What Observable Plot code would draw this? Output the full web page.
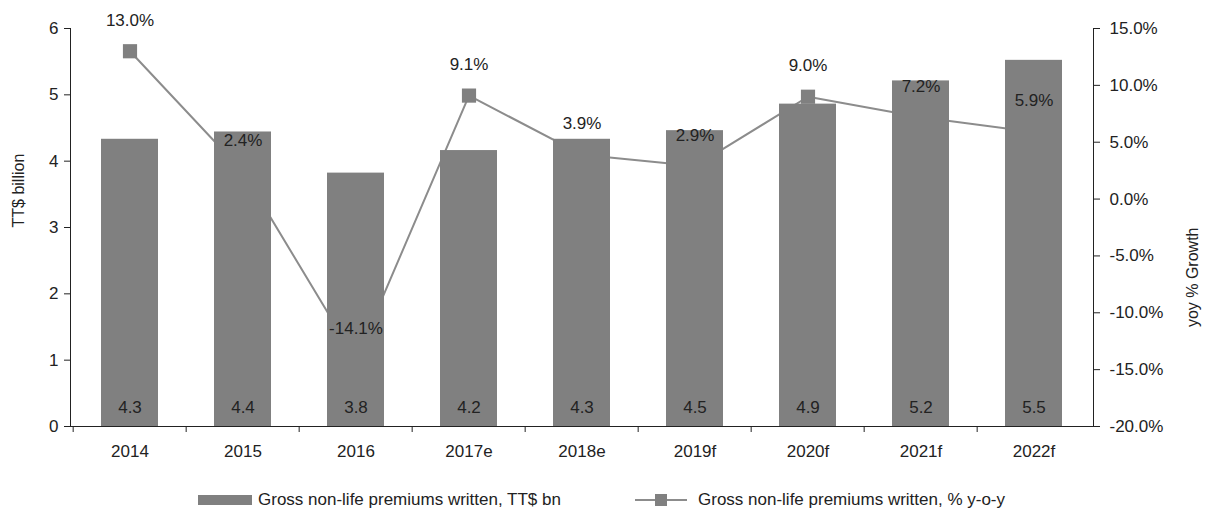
<!DOCTYPE html>
<html><head><meta charset="utf-8">
<script src="https://cdn.jsdelivr.net/npm/d3@7"></script>
<script src="https://cdn.jsdelivr.net/npm/@observablehq/plot@0.6"></script>
<style>
body{margin:0;background:#fff;font-family:"Liberation Sans",Arial,sans-serif;}
#legend{position:relative;height:45px;font-size:17px;color:#222;}
.item{position:absolute;top:19px;display:flex;align-items:center;height:22px;white-space:nowrap;}
</style></head><body>
<div id="chart"></div>
<div id="legend"></div>
<script>
const years = ["2014","2015","2016","2017e","2018e","2019f","2020f","2021f","2022f"];
const premiums = [4.33,4.44,3.82,4.16,4.33,4.46,4.86,5.21,5.52];
const premiumLabels = ["4.3","4.4","3.8","4.2","4.3","4.5","4.9","5.2","5.5"];
const growth = [13.0,2.4,-14.1,9.1,3.9,2.9,9.0,7.2,5.9];
const leftTicks = [0,1,2,3,4,5,6];
const rightTicks = [-20,-15,-10,-5,0,5,10,15];
const leftTitle = "TT$ billion";
const rightTitle = "yoy % Growth";
const seriesNames = ["Gross non-life premiums written, TT$ bn","Gross non-life premiums written, % y-o-y"];

const leftDomain = [0, 6];
const rightDomain = [-20, 15];
const toLeft = p => (p - rightDomain[0]) / (rightDomain[1] - rightDomain[0]) * (leftDomain[1] - leftDomain[0]) + leftDomain[0];
const fromLeft = v => (v - leftDomain[0]) / (leftDomain[1] - leftDomain[0]) * (rightDomain[1] - rightDomain[0]) + rightDomain[0];

const data = years.map((y, i) => ({year: y, value: premiums[i], label: premiumLabels[i], growth: growth[i], gy: toLeft(growth[i])}));

const W = 1215, H = 470, mL = 70, mR = 122, mT = 28, mB = 44;
const step = (W - mL - mR) / years.length;
const font = "'Liberation Sans', Arial, sans-serif";
const barColor = "#808080";
const ink = "#222";

const chart = Plot.plot({
  width: W, height: H,
  marginTop: mT, marginBottom: mB, marginLeft: mL, marginRight: mR,
  style: {fontFamily: font, fontSize: "17px", color: ink, background: "#fff"},
  x: {domain: years, paddingInner: 0.5, paddingOuter: 0.25, label: null},
  y: {domain: leftDomain, label: null},
  marks: [
    Plot.line(data, {x: "year", y: "gy", stroke: "#8c8c8c", strokeWidth: 2}),
    Plot.dot(data, {x: "year", y: "gy", symbol: "square", fill: barColor, stroke: "none", r: 8}),
    Plot.barY(data, {x: "year", y: "value", fill: barColor}),
    Plot.text(data, {x: "year", y: leftDomain[0], text: "label", dy: -19, fill: ink, fontSize: 17}),
    Plot.text(data, {x: "year", y: "gy", text: d => d.growth.toFixed(1) + "%", dy: -31, fill: ink, fontSize: 17}),
    Plot.frame({anchor: "left", stroke: ink}),
    Plot.frame({anchor: "right", stroke: ink}),
    Plot.frame({anchor: "bottom", stroke: ink}),
    Plot.axisY(leftTicks, {anchor: "left", tickSize: 6, tickPadding: 6, label: null, stroke: ink, tickFormat: d => String(d)}),
    Plot.axisY(rightTicks.map(toLeft), {anchor: "right", tickSize: 6, tickPadding: 10, label: null, stroke: ink,
      tickFormat: v => Math.round(fromLeft(v)).toFixed(1) + "%"}),
    Plot.axisX({anchor: "bottom", tickSize: 0, tickPadding: 18, label: null}),
    Plot.axisX(years, {anchor: "bottom", tickSize: 6, tickFormat: () => "", dx: -step / 2, label: null, stroke: ink}),
    Plot.text([leftTitle], {frameAnchor: "left", dx: -52, rotate: -90, fill: ink, fontSize: 16}),
    Plot.text([rightTitle], {frameAnchor: "right", dx: 99, rotate: -90, fill: ink, fontSize: 16})
  ]
});
document.getElementById("chart").appendChild(chart);

const legend = document.getElementById("legend");
legend.innerHTML = `
<div class="item" style="left:198px"><span style="display:inline-block;width:54px;height:10px;background:${barColor};margin-right:6px"></span>${seriesNames[0]}</div>
<div class="item" style="left:635px"><svg width="52" height="14" style="margin-right:11px"><line x1="0" y1="7" x2="52" y2="7" stroke="#8c8c8c" stroke-width="2"/><rect x="20" y="1" width="12" height="12" fill="${barColor}"/></svg>${seriesNames[1]}</div>`;
</script>
</body></html>
